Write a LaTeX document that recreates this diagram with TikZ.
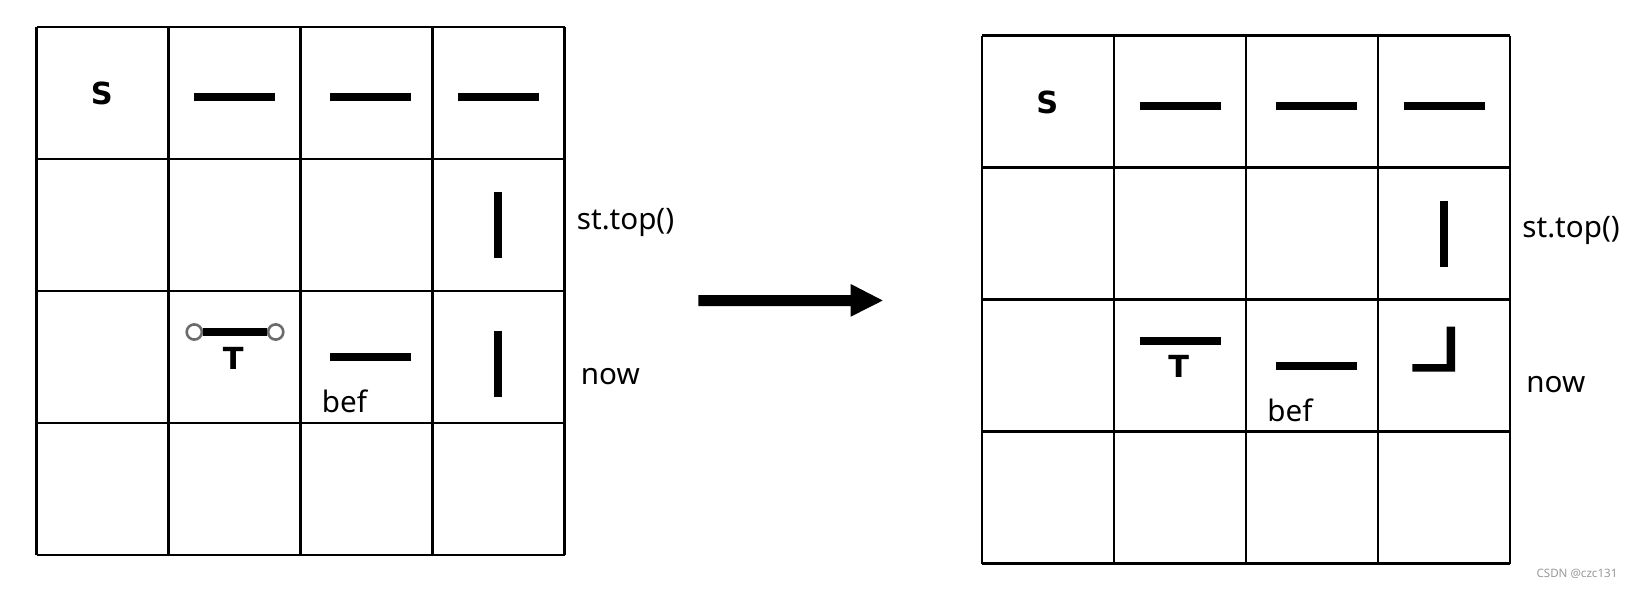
\documentclass[tikz,border=0pt]{standalone}
\usepackage{fontspec}
\setmainfont{Noto Sans}
\newfontfamily\heavysans{DejaVu Sans}
\begin{document}
\begin{tikzpicture}[x=0.5pt,y=-0.5pt,
  gridline/.style={line width=1.05pt, black},
  bar/.style={line width=4pt, black},
  dot/.style={circle, draw=black!58, line width=1.3pt, fill=white, minimum size=7.6pt, inner sep=0pt},
  lbl/.style={inner sep=0pt, font=\fontsize{14.8}{17}\selectfont},
  big/.style={inner sep=0pt, font=\fontsize{15.2}{17}\heavysans\bfseries},
  wmark/.style={inner sep=0pt, font=\fontsize{5.8}{7}\selectfont, text=black!40}]
\useasboundingbox (0,0) rectangle (1635,589);
% ---------- left grid ----------
\foreach \i in {0,...,4} {
  \draw[gridline] (36.5+132*\i,27) -- (36.5+132*\i,555);
  \draw[gridline] (36.5,27+132*\i) -- (564.5,27+132*\i);
}
\node[big] (ls) at (101.7,93.5) {S};
\draw[bar] (194,97) -- (275,97);
\draw[bar] (330,97) -- (411,97);
\draw[bar] (458,97) -- (539,97);
\draw[bar] (498,192) -- (498,258);
\node[dot] (lc1) at (194.3,332) {};
\node[dot] (lc2) at (275.7,332) {};
\draw[bar] (lc1) -- (lc2);
\node[big] (lt) at (233.3,358) {T};
\draw[bar] (330,357) -- (411,357);
\node[lbl, anchor=base west] (lbef) at (321.5,412.7) {bef};
\draw[bar] (498,331) -- (498,397);
\node[lbl, anchor=base west] (ltop) at (576.5,229.3) {st.top()};
\node[lbl, anchor=base west] (lnow) at (580.5,384) {now};
% ---------- arrow ----------
\fill[black] (698.3,295) -- (850.7,295) -- (850.7,284) -- (882.7,300.5)
  -- (850.7,316.7) -- (850.7,306) -- (698.3,306) -- cycle;
% ---------- right grid ----------
\begin{scope}[shift={(945.5,8.5)}]
\foreach \i in {0,...,4} {
  \draw[gridline] (36.5+132*\i,27) -- (36.5+132*\i,555);
  \draw[gridline] (36.5,27+132*\i) -- (564.5,27+132*\i);
}
\node[big] (rs) at (101.7,93.5) {S};
\draw[bar] (194,97) -- (275,97);
\draw[bar] (330,97) -- (411,97);
\draw[bar] (458,97) -- (539,97);
\draw[bar] (498,192) -- (498,258);
\draw[bar] (194,332) -- (275,332);
\node[big] (rt) at (233.3,358) {T};
\draw[bar] (330,357) -- (411,357);
\node[lbl, anchor=base west] (rbef) at (321.5,412.7) {bef};
\fill[black] (466.8,355.5) -- (501.2,355.5) -- (501.2,318.2) -- (509.5,318.2)
  -- (509.5,363.2) -- (466.8,363.2) -- cycle;
\node[lbl, anchor=base west] (rtop) at (576.5,229.3) {st.top()};
\node[lbl, anchor=base west] (rnow) at (580.5,384) {now};
\end{scope}
\node[wmark] (wm) at (1577,574) {CSDN @czc131};
\end{tikzpicture}
\end{document}
